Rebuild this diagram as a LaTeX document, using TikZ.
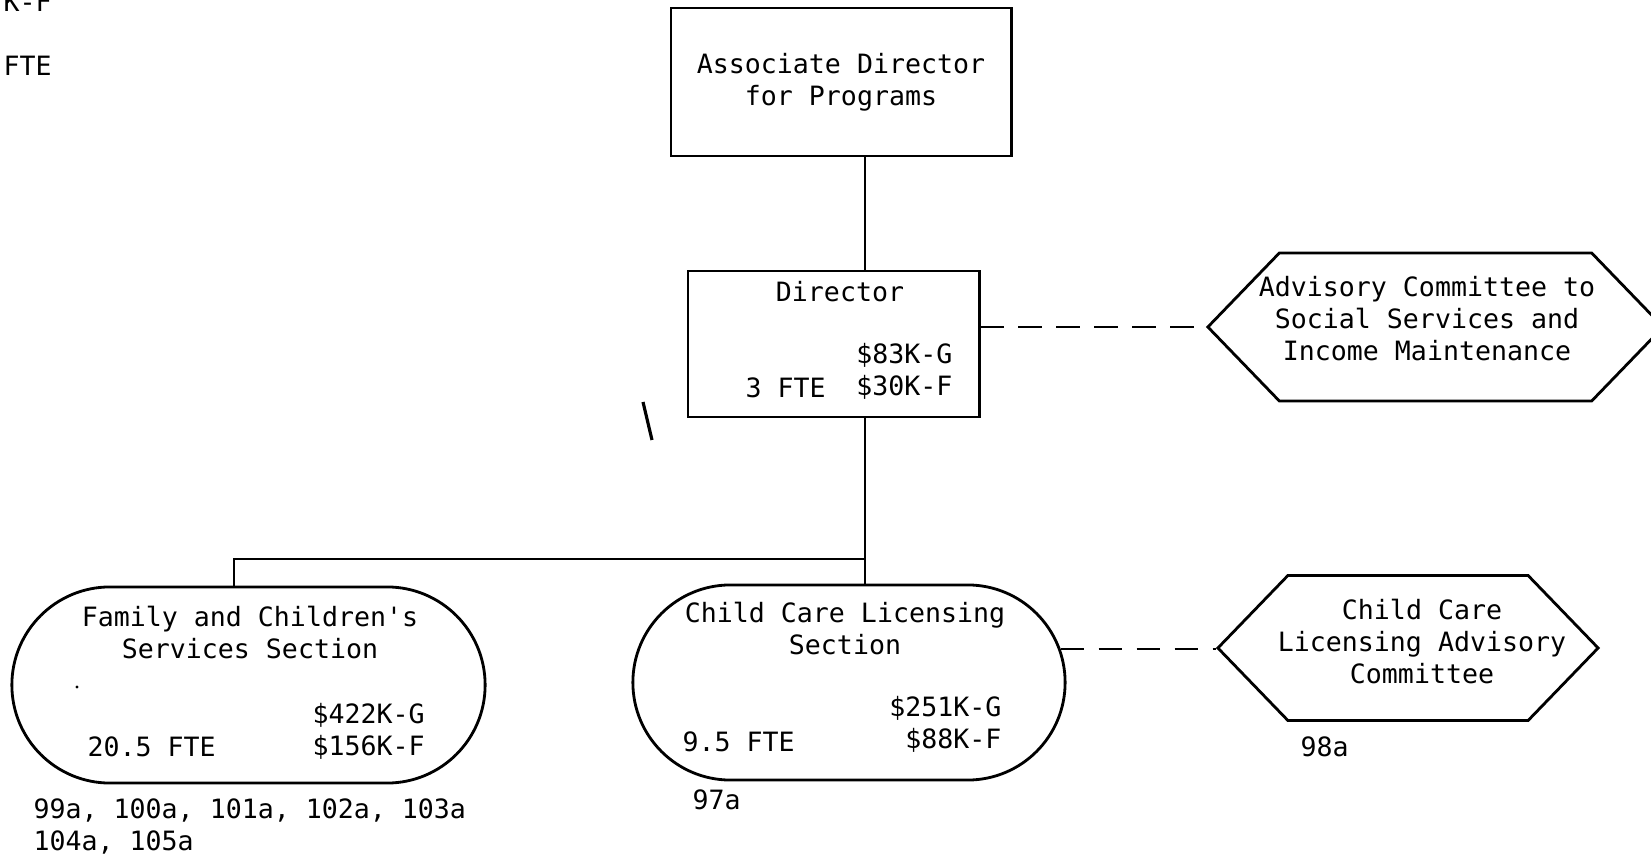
\documentclass[tikz,border=0pt]{standalone}
\usepackage{fontspec}
\setmonofont{DejaVu Sans Mono}
\usetikzlibrary{shapes.misc,shapes.symbols}
\newcommand{\orgfont}{\ttfamily\fontsize{7.56}{9.1}\selectfont}
\tikzset{
  orgbox/.style={draw, line width=0.8pt, rectangle, inner sep=0pt},
  section/.style={draw, line width=0.8pt, rounded rectangle, inner sep=0pt},
  committee/.style={draw, line width=0.8pt, signal, signal to=east and west,
    signal pointer angle=92, inner sep=0pt},
  txt/.style={font=\orgfont, inner sep=0pt},
  link/.style={line width=0.8pt},
  dashlink/.style={line width=0.8pt, dash pattern=on 6.6pt off 4.2pt},
}

\begin{document}
\begin{tikzpicture}[x=0.01cm,y=-0.01cm]
  \useasboundingbox (0,0) rectangle (1651,861);
  % boxes
  \node[orgbox, txt, align=center, minimum width=3.40cm, minimum height=1.48cm] (assoc) at (841,82) {Associate Director\\for Programs};
  \node[orgbox, minimum width=2.91cm, minimum height=1.46cm] (dir) at (833.5,344) {};
  \node[section, minimum width=4.73cm, minimum height=1.96cm] (family) at (248.5,685) {};
  \node[section, minimum width=4.32cm, minimum height=1.95cm] (child) at (849,682.5) {};
  \node[committee, minimum width=4.55cm, minimum height=1.48cm] (adv) at (1435.5,327) {};
  \node[committee, minimum width=3.80cm, minimum height=1.45cm] (cadv) at (1408,648) {};
  % texts
  \node[txt] (dirtitle) at (840,292) {Director};
  \node[txt, anchor=east, align=right] (dirfunds) at (953,371.5) {\$83K-G\\\$30K-F};
  \node[txt, anchor=west] (dirfte) at (745,388) {3 FTE};
  \node[txt, align=center] (famtitle) at (250,632.5) {Family and Children's\\Services Section};
  \node[txt, anchor=west, align=left] (famfunds) at (312,731) {\$422K-G\\\$156K-F};
  \node[txt, anchor=west] (famfte) at (87,747) {20.5 FTE};
  \node[txt, anchor=west, align=left] (famrefs) at (33,826) {99a, 100a, 101a, 102a, 103a\\104a, 105a};
  \node[txt, align=center] (cctitle) at (845,629) {Child Care Licensing\\Section};
  \node[txt, anchor=east, align=right] (ccfunds) at (1002,724.5) {\$251K-G\\\$88K-F};
  \node[txt, anchor=west] (ccfte) at (682,742) {9.5 FTE};
  \node[txt, anchor=west] (ccrefs) at (692,800) {97a};
  \node[txt, align=center] (advtitle) at (1427,319) {Advisory Committee to\\Social Services and\\Income Maintenance};
  \node[txt, align=center] (cadvtitle) at (1422,642) {Child Care\\Licensing Advisory\\Committee};
  \node[txt, anchor=west] (cadvrefs) at (1300,747) {98a};
  \node[txt, anchor=base west] (topkf) at (3,12) {K-F};
  \node[txt, anchor=west] (topfte) at (3,65.5) {FTE};
  % connectors
  \coordinate (spine) at (865,559);
  \draw[link] (assoc.south -| spine) -- (dir.north -| spine);
  \draw[link] (dir.south -| spine) -- (child.north -| spine);
  \draw[link] (spine) -| ([xshift=-0.145cm]family.north);
  \draw[dashlink] (adv.west -| dir.east) -- (adv.west);
  \draw[dashlink] (child.9) -- (child.9 -| cadv.west);
  % stray marks
  \draw[line width=0.9pt] (643,402) -- (652,440);
  \fill (77,687) circle (1.6);
\end{tikzpicture}
\end{document}
